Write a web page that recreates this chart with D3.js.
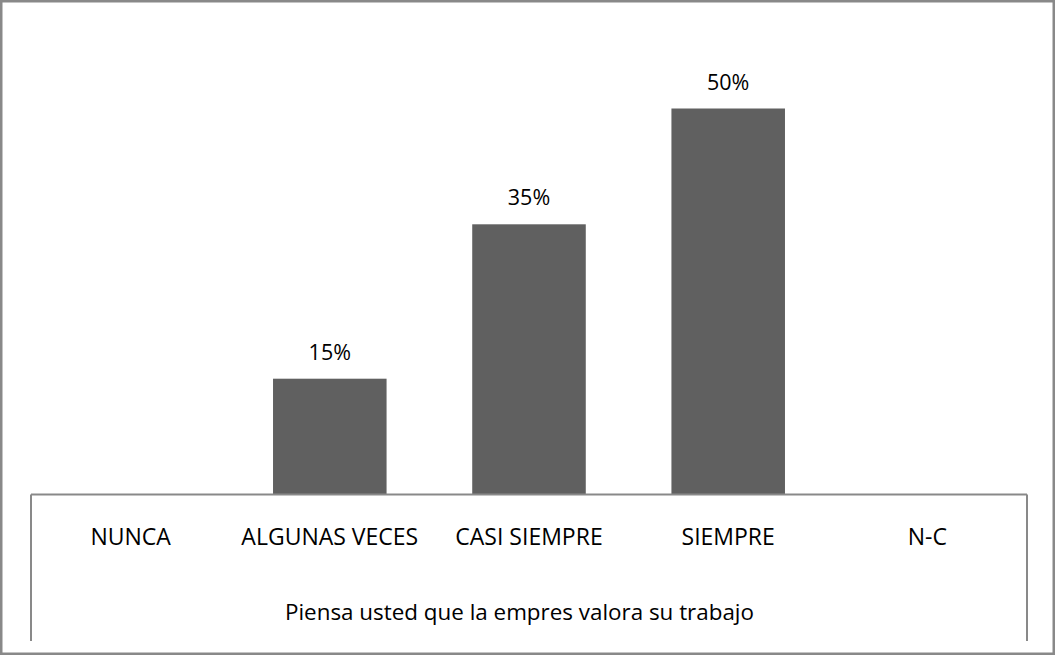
<!DOCTYPE html>
<html>
<head>
<meta charset="utf-8">
<script src="https://cdn.jsdelivr.net/npm/d3@7"></script>
<style>
  html, body { margin: 0; padding: 0; background: #fff; }
  svg { display: block; font-family: "Open Sans", sans-serif; }
</style>
</head>
<body>
<svg id="chart" width="1055" height="656"></svg>
<script>
// Chart values
const categories = ["NUNCA", "ALGUNAS VECES", "CASI SIEMPRE", "SIEMPRE", "N-C"];
const values = [0, 15, 35, 50, 0];
const axisTitle = "Piensa usted que la empres valora su trabajo";

const width = 1055;
const height = 656;
const plotLeft = 31, plotRight = 1027;
const baseline = 494.5, boxBottom = 641;

const svg = d3.select("#chart");

// outer frame
svg.append("rect")
    .attr("x", 1.25).attr("y", 1.25)
    .attr("width", width - 2.5).attr("height", height - 3.5)
    .attr("fill", "none")
    .attr("stroke", "#898989")
    .attr("stroke-width", 2.5);

const x = d3.scaleBand()
    .domain(categories)
    .range([plotLeft, plotRight])
    .paddingInner(0.43)
    .paddingOuter(0.215);

const y = d3.scaleLinear()
    .domain([0, 50])
    .range([baseline, 108.5]);

const data = categories.map((c, i) => ({ cat: c, val: values[i] }));

// bars
svg.append("g").selectAll("rect")
    .data(data.filter(d => d.val > 0))
    .join("rect")
    .attr("x", d => x(d.cat))
    .attr("y", d => y(d.val))
    .attr("width", x.bandwidth())
    .attr("height", d => y(0) - y(d.val))
    .attr("fill", "#606060");

// data labels
svg.append("g").selectAll("text")
    .data(data.filter(d => d.val > 0))
    .join("text")
    .attr("x", d => x(d.cat) + x.bandwidth() / 2)
    .attr("y", d => y(d.val) - 19)
    .attr("text-anchor", "middle")
    .attr("font-size", 21.5)
    .attr("fill", "#000")
    .text(d => d.val + "%");

// category box (axis table)
const box = svg.append("g")
    .attr("stroke", "#898989")
    .attr("stroke-width", 2)
    .attr("fill", "none");
box.append("line")
    .attr("x1", plotLeft).attr("x2", plotRight)
    .attr("y1", baseline).attr("y2", baseline);
box.append("line")
    .attr("x1", plotLeft).attr("x2", plotLeft)
    .attr("y1", baseline).attr("y2", boxBottom);
box.append("line")
    .attr("x1", plotRight).attr("x2", plotRight)
    .attr("y1", baseline).attr("y2", boxBottom);

// category labels
svg.append("g").selectAll("text")
    .data(categories)
    .join("text")
    .attr("x", d => x(d) + x.bandwidth() / 2)
    .attr("y", 545)
    .attr("text-anchor", "middle")
    .attr("font-size", 23)
    .attr("fill", "#000")
    .text(d => d);

// axis title
svg.append("text")
    .attr("x", 519.5)
    .attr("y", 620)
    .attr("text-anchor", "middle")
    .attr("font-size", 22.4)
    .attr("fill", "#000")
    .text(axisTitle);
</script>
</body>
</html>
